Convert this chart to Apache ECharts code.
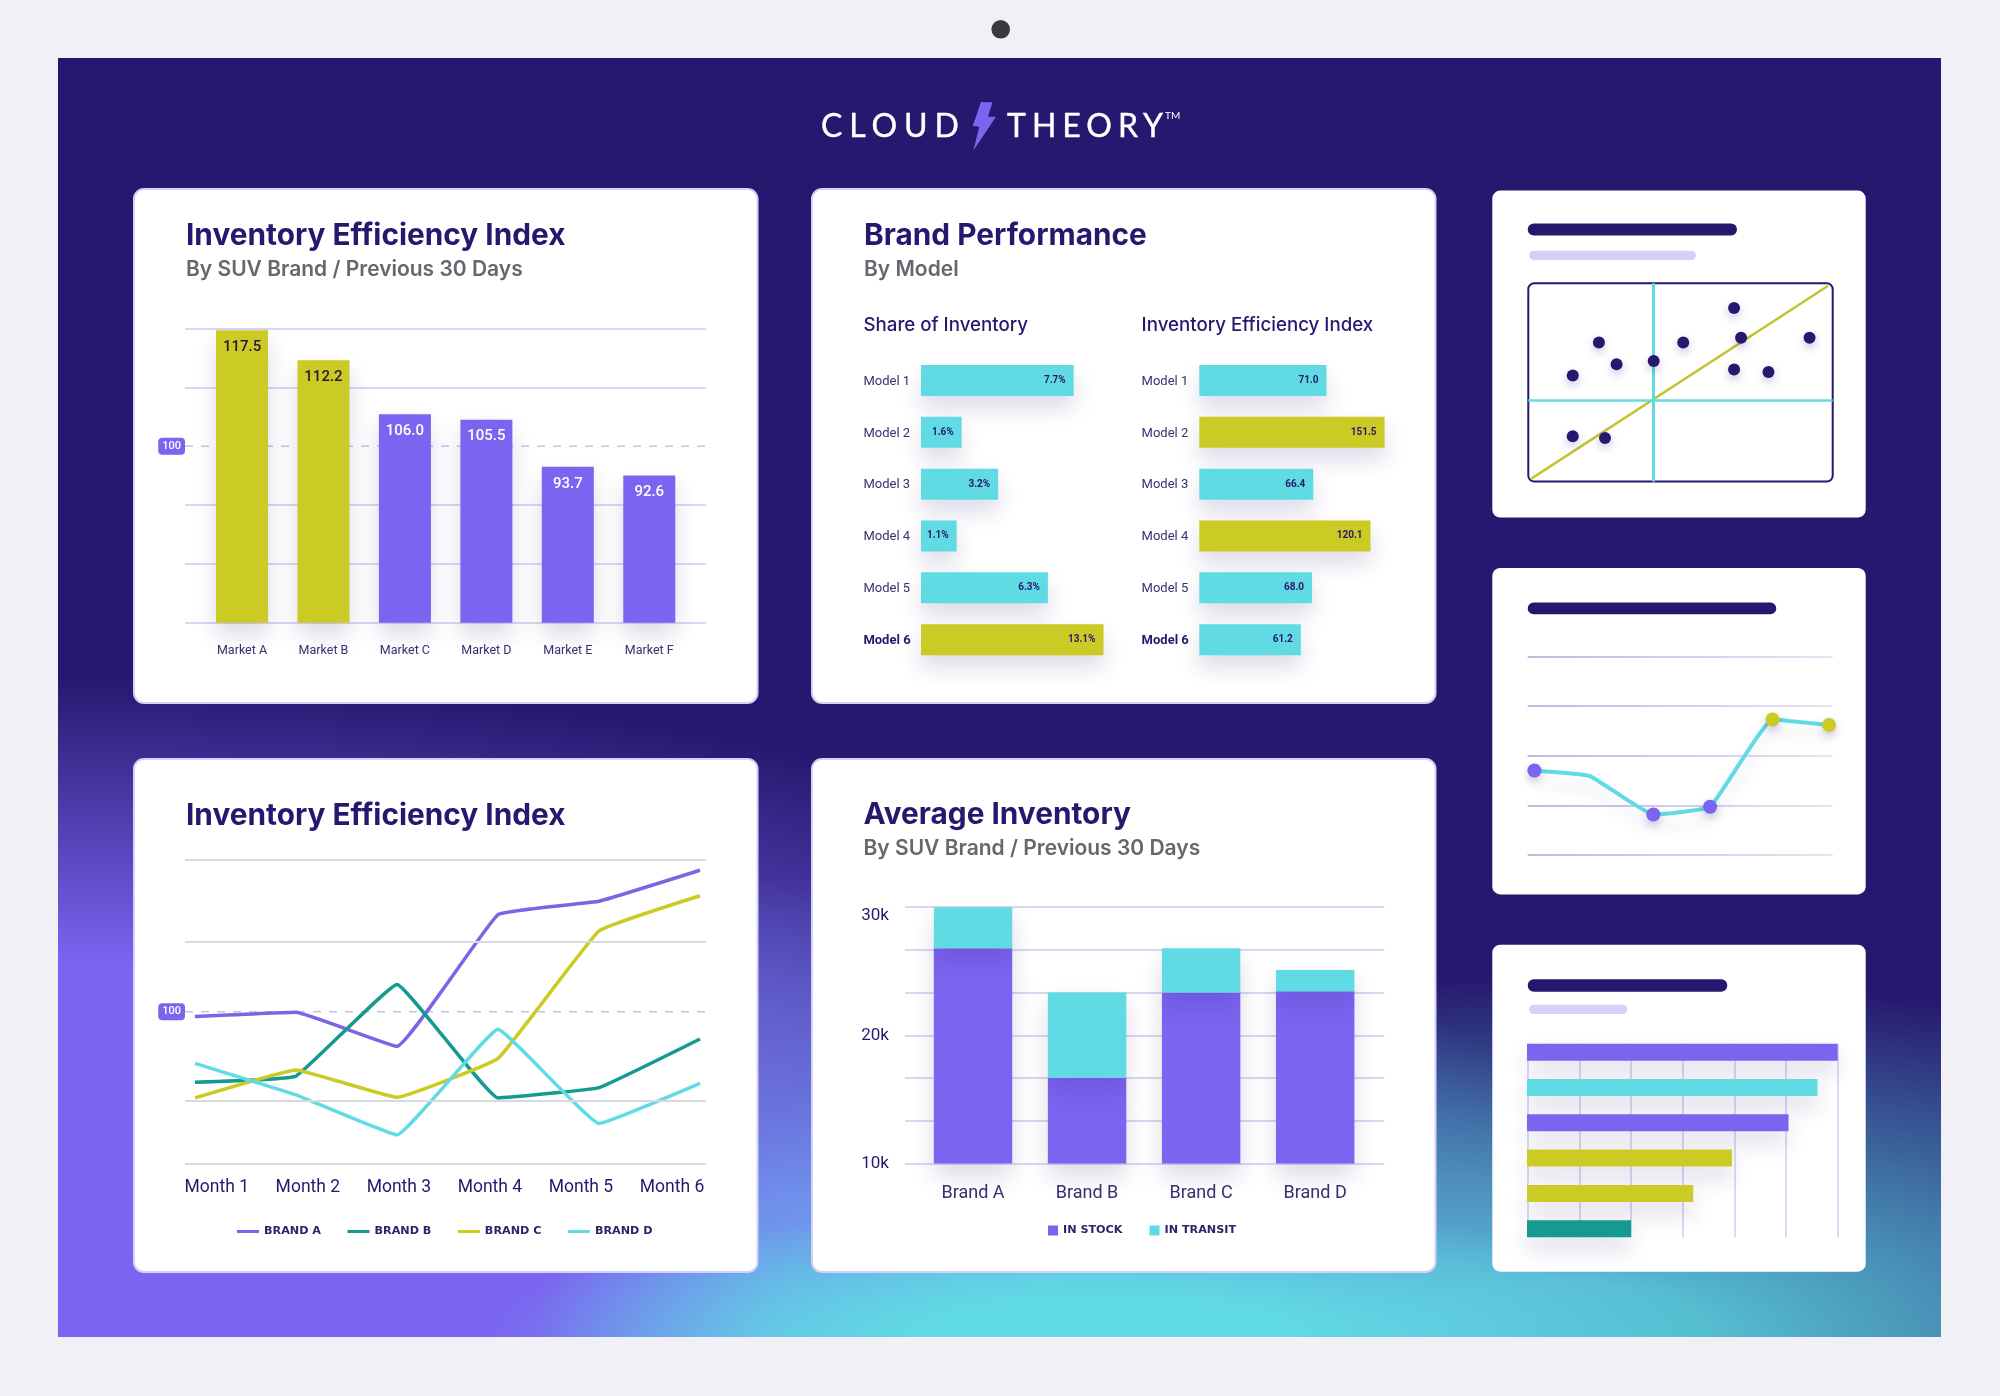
<!DOCTYPE html>
<html>
<head>
<meta charset="utf-8">
<title>Cloud Theory</title>
<script src="https://cdn.jsdelivr.net/npm/echarts@6/dist/echarts.min.js"></script>
<style>
html, body { margin: 0; padding: 0; background: #f0f0f6; }
#page { position: relative; width: 2000px; height: 1396px; overflow: hidden; }
#panel {
    position: absolute; left: 58px; top: 58px; width: 1883px; height: 1279px;
    background:
        radial-gradient(ellipse 620px 135px at 1050px 1279px, #60dae4 0%, #60dae4 30%, rgba(96,218,228,0) 100%),
        radial-gradient(ellipse 720px 420px at 0px 1279px, #7b64f0 0%, #7b64f0 68%, rgba(123,100,240,0) 100%),
        radial-gradient(ellipse 1250px 380px at 0px 1000px, #7b64f0 0%, #7b64f0 25%, rgba(123,100,240,0) 100%),
        radial-gradient(ellipse 900px 460px at 727px 1279px, #68aee8 0%, #68aee8 30%, rgba(104,174,232,0) 100%),
        radial-gradient(ellipse 1050px 360px at 1500px 1279px, #55bcd0 0%, #55bcd0 15%, rgba(85,188,208,0) 100%),
        #26186f;
}
#chart { position: absolute; left: 0; top: 0; width: 2000px; height: 1396px; }
.logo { position: absolute; color: #fff; font-family: Lato, sans-serif; font-size: 32px; line-height: 32px; white-space: nowrap; -webkit-text-stroke: 0.4px #fff; }
</style>
</head>
<body>
<div id="page">
    <div id="panel"></div>
    <div id="chart"></div>
    <div class="logo" style="left:821px;top:109px;letter-spacing:6.9px">CLOUD</div>
    <div class="logo" style="left:1007px;top:109px;letter-spacing:6px">THEORY</div>
    <div class="logo" style="left:1165px;top:110px;font-size:10px;line-height:10px;-webkit-text-stroke:0">TM</div>
</div>
<script>
var purple = '#7b64f0', cyan = '#60dbe4', yellow = '#ccca24', navy = '#26186f', teal = '#159a90';
var gridLilac = '#cfc9f2', gridGrey = '#d8d8e0', greyText = '#66666f', dashLilac = '#c5c0e8';
var fontName = 'Roboto, sans-serif', headFont = 'Inter, sans-serif';

// market bars: heights as they stand on the gridlines, printed labels next to them
var markets = ['Market A', 'Market B', 'Market C', 'Market D', 'Market E', 'Market F'];
var marketHeights = [119.7, 114.6, 105.4, 104.5, 96.5, 95.0];
var marketLabels = ['117.5', '112.2', '106.0', '105.5', '93.7', '92.6'];

var models = ['Model 1', 'Model 2', 'Model 3', 'Model 4', 'Model 5', 'Model 6'];
var shareLengths = [10.96, 2.92, 5.54, 2.56, 9.11, 13.1];
var shareLabels = ['7.7%', '1.6%', '3.2%', '1.1%', '6.3%', '13.1%'];
var effLengths = [104, 151.5, 93.2, 140, 92.2, 83];
var effLabels = ['71.0', '151.5', '66.4', '120.1', '68.0', '61.2'];

var months = ['Month 1', 'Month 2', 'Month 3', 'Month 4', 'Month 5', 'Month 6'];
var brandA = [99.2, 99.9, 94.3, 116, 118.2, 123.3];
var brandB = [88.4, 89.4, 104.5, 85.8, 87.5, 95.5];
var brandC = [85.8, 90.4, 85.9, 92.3, 113.3, 119.1];
var brandD = [91.5, 86.3, 79.7, 97.1, 81.6, 88.2];
var indexGridValues = [75, 85.4, 111.6, 125];

var brands = ['Brand A', 'Brand B', 'Brand C', 'Brand D'];
var inStock = [26800, 16700, 23350, 23450];
var inTransit = [3200, 6650, 3450, 1650];

var scatterX = [14.6, 23.2, 29.0, 41.2, 50.9, 67.6, 69.9, 67.6, 78.9, 92.4, 14.6, 25.2];
var scatterY = [53.5, 70.1, 59.2, 60.8, 70.1, 87.5, 72.6, 56.5, 55.3, 72.6, 22.9, 22.0];
var trendLine = [[1, 1.5], [98.5, 98.8]];

var miniLineX = [2.2, 20.4, 41.2, 59.8, 80.3, 98.8];
var miniLineY = [42.6, 39.8, 20.4, 24.3, 68.3, 65.5];

var miniBars = [6, 5.61, 5.05, 3.96, 3.21, 2.01];

var grids = [], xAxes = [], yAxes = [], series = [], titles = [];

function plot(box, x, y) {
    grids.push({ left: box[0], top: box[1], width: box[2] - box[0], height: box[3] - box[1] });
    x.gridIndex = y.gridIndex = grids.length - 1;
    xAxes.push(x);
    yAxes.push(y);
    return grids.length - 1;
}

function hidden(min, max) {
    return { type: 'value', min: min, max: max, show: false };
}

function text(t, x, baseline, size, color, weight) {
    titles.push({
        text: t, left: x, top: baseline - size * 0.78, padding: 0,
        textStyle: { fontFamily: headFont, fontSize: size, color: color, fontWeight: weight }
    });
}

function shadow(o) {
    o.shadowColor = 'rgba(38,24,111,0.16)';
    o.shadowBlur = 22;
    o.shadowOffsetY = 12;
    return o;
}

var badgeLabel = {
    customValues: [100], margin: 0, color: '#fff', fontFamily: fontName, fontSize: 11, fontWeight: 500,
    backgroundColor: purple, borderRadius: 4, padding: [3, 4, 3, 4]
};

function hBars(box, labelMargin, lengths, labels, max, highlight) {
    var i = plot(box, hidden(0, max), {
        type: 'category', inverse: true, data: models,
        axisLine: { show: false }, axisTick: { show: false },
        axisLabel: {
            align: 'left', margin: labelMargin, color: '#38306f', fontFamily: fontName, fontSize: 13, padding: [2, 0, 0, 0],
            formatter: function (v, n) { return n === 5 ? '{b|' + v + '}' : v; },
            rich: { b: { fontFamily: fontName, fontSize: 13, fontWeight: 700, color: navy } }
        }
    });
    series.push({
        type: 'bar', xAxisIndex: i, yAxisIndex: i, barWidth: 31,
        data: lengths.map(function (v, n) {
            return { value: v, itemStyle: shadow({ color: highlight.indexOf(n) >= 0 ? yellow : cyan }) };
        }),
        label: {
            show: true, position: 'insideRight', distance: 8, color: navy,
            fontFamily: fontName, fontSize: 10, fontWeight: 700,
            formatter: function (p) { return labels[p.dataIndex]; }
        }
    });
}

// Inventory Efficiency Index, bars
text('Inventory Efficiency Index', 186, 244.5, 29.8, navy, 700);
text('By SUV Brand / Previous 30 Days', 186, 275.5, 21, greyText, 600);
var g = plot([185, 328.4, 706, 622.8], hidden(0, 1), {
    type: 'value', min: 70, max: 120, interval: 10,
    axisLine: { show: false }, axisTick: { show: false }, axisLabel: badgeLabel,
    splitLine: { lineStyle: { width: 1.5, color: [gridLilac, gridLilac, gridLilac, 'rgba(0,0,0,0)', gridLilac, gridLilac] } }
});
series.push({
    type: 'line', xAxisIndex: g, yAxisIndex: g, symbol: 'none', z: 1,
    data: [[0, 100], [1, 100]], lineStyle: { width: 1.5, color: dashLilac, type: [8, 8] }
});
g = plot([201.3, 328.4, 690, 622.8], {
    type: 'category', data: markets, axisLine: { show: false }, axisTick: { show: false },
    axisLabel: { margin: 22, color: '#38306f', fontFamily: fontName, fontSize: 12.5 }
}, hidden(70, 120));
series.push({
    type: 'bar', xAxisIndex: g, yAxisIndex: g, barWidth: 52,
    data: marketHeights.map(function (v, n) {
        return {
            value: v,
            itemStyle: shadow({ color: n < 2 ? yellow : purple }),
            label: { color: n < 2 ? '#231a33' : '#fff' }
        };
    }),
    label: {
        show: true, position: 'insideTop', distance: 9.5, fontFamily: fontName, fontSize: 15, fontWeight: 500,
        formatter: function (p) { return marketLabels[p.dataIndex]; }
    }
});

// Brand Performance
text('Brand Performance', 864, 244.5, 29.8, navy, 700);
text('By Model', 864, 275.5, 21, greyText, 600);
text('Share of Inventory', 863.5, 330, 18.7, navy, 500);
text('Inventory Efficiency Index', 1141.6, 330, 18.7, navy, 500);
hBars([921, 354.5, 1103.5, 665.6], 57.6, shareLengths, shareLabels, 13.1, [5]);
hBars([1199.3, 354.5, 1384.6, 665.6], 57.7, effLengths, effLabels, 151.5, [1, 3]);

// Inventory Efficiency Index, lines
text('Inventory Efficiency Index', 186, 824, 29.8, navy, 700);
g = plot([185, 859.9, 706, 1163.5], hidden(0, 1), {
    type: 'value', min: 75, max: 125,
    axisLine: { show: false }, axisTick: { show: false }, axisLabel: badgeLabel, splitLine: { show: false }
});
series.push({
    type: 'line', xAxisIndex: g, yAxisIndex: g, symbol: 'none', z: 1,
    data: [[0, 100], [1, 100]], lineStyle: { width: 1.5, color: dashLilac, type: [8, 8] },
    markLine: {
        silent: true, symbol: 'none', label: { show: false }, animation: false,
        lineStyle: { type: 'solid', width: 2, color: gridGrey },
        data: indexGridValues.map(function (v) { return { yAxis: v }; })
    }
});
g = plot([195, 859.9, 700, 1163.5], { type: 'category', boundaryGap: false, data: months, show: false }, hidden(75, 125));
[['BRAND A', brandA, '#7b64e6'], ['BRAND B', brandB, teal], ['BRAND C', brandC, yellow], ['BRAND D', brandD, cyan]].forEach(function (b) {
    series.push({
        type: 'line', name: b[0], data: b[1], xAxisIndex: g, yAxisIndex: g, symbol: 'none', smooth: 0.08,
        itemStyle: { color: b[2] }, lineStyle: { width: 3.5, color: b[2], join: 'round' }
    });
});
plot([171.3, 859.9, 717.5, 1163.5], {
    type: 'category', data: months, axisLine: { show: false }, axisTick: { show: false },
    axisLabel: { margin: 15, color: navy, fontFamily: fontName, fontSize: 17.5 }
}, hidden(0, 1));

// Average Inventory
text('Average Inventory', 863.5, 823.5, 29.8, navy, 700);
text('By SUV Brand / Previous 30 Days', 863.5, 854.5, 21, greyText, 600);
plot([904.9, 907.2, 1384.2, 1163.5], hidden(0, 1), {
    type: 'value', min: 10000, max: 30000, interval: 10000,
    axisLine: { show: false }, axisTick: { show: false },
    axisLabel: {
        margin: 16, color: navy, fontFamily: fontName, fontSize: 17,
        verticalAlignMaxLabel: 'top',
        formatter: function (v) { return v / 1000 + 'k'; }
    },
    splitLine: { lineStyle: { width: 1.5, color: gridLilac } },
    minorTick: { show: false, splitNumber: 3 },
    minorSplitLine: { show: true, lineStyle: { width: 1.5, color: gridLilac } }
});
g = plot([916, 907.2, 1372.2, 1163.5], {
    type: 'category', data: brands, axisLine: { show: false }, axisTick: { show: false },
    axisLabel: { margin: 21, color: '#38306f', fontFamily: fontName, fontSize: 18 }
}, hidden(10000, 30000));
series.push({
    type: 'bar', name: 'IN STOCK', stack: 'inv', xAxisIndex: g, yAxisIndex: g, barWidth: 78.4,
    data: inStock, itemStyle: shadow({ color: purple })
});
series.push({
    type: 'bar', name: 'IN TRANSIT', stack: 'inv', xAxisIndex: g, yAxisIndex: g, barWidth: 78.4,
    data: inTransit, itemStyle: shadow({ color: cyan })
});

// scatter card
g = plot([1528.3, 283.3, 1832.7, 481.6], hidden(0, 100), hidden(0, 100));
series.push({
    type: 'scatter', xAxisIndex: g, yAxisIndex: g, symbolSize: 12, z: 5,
    data: scatterX.map(function (x, n) { return [x, scatterY[n]]; }),
    itemStyle: { color: navy, opacity: 1, shadowColor: 'rgba(38,24,111,0.25)', shadowBlur: 8, shadowOffsetY: 4 },
    markLine: {
        silent: true, symbol: 'none', label: { show: false }, animation: false,
        data: [
            { xAxis: 41.1, lineStyle: { type: 'solid', color: cyan, width: 3 } },
            { yAxis: 41, lineStyle: { type: 'solid', color: cyan, width: 2.5 } }
        ]
    }
});
series.push({
    type: 'line', xAxisIndex: g, yAxisIndex: g, symbol: 'none', z: 4,
    data: trendLine, lineStyle: { width: 2.5, color: '#c3c42e' }
});

// small line card
g = plot([1527.7, 656.6, 1832.7, 855], hidden(0, 100), {
    type: 'value', min: 0, max: 100, interval: 25,
    axisLine: { show: false }, axisTick: { show: false }, axisLabel: { show: false },
    splitLine: {
        lineStyle: {
            width: 1.5,
            color: {
                type: 'linear', x: 1527.7, y: 0, x2: 1832.7, y2: 0, global: true,
                colorStops: [{ offset: 0, color: '#a9a3d8' }, { offset: 1, color: '#dcdaf0' }]
            }
        }
    }
});
series.push({
    type: 'line', xAxisIndex: g, yAxisIndex: g, smooth: 0.1, showAllSymbol: true,
    lineStyle: { width: 4, color: cyan, shadowColor: 'rgba(38,24,111,0.12)', shadowBlur: 16, shadowOffsetY: 12 },
    data: miniLineX.map(function (x, n) {
        return {
            value: [x, miniLineY[n]],
            symbol: n === 1 ? 'none' : 'circle',
            symbolSize: 14,
            itemStyle: { color: n > 3 ? yellow : purple, shadowColor: 'rgba(38,24,111,0.25)', shadowBlur: 8, shadowOffsetY: 4 }
        };
    })
});

// small bar card
plot([1527.7, 1043.7, 1837.7, 1237.3], {
    type: 'value', min: 0, max: 6, interval: 1,
    axisLine: { show: false }, axisTick: { show: false }, axisLabel: { show: false },
    splitLine: { lineStyle: { width: 1.5, color: '#d3cdee' } }
}, hidden(0, 1));
g = plot([1527, 1034.5, 1837.7, 1246.4], hidden(0, 6), {
    type: 'category', inverse: true, data: miniBars.map(function (v, n) { return n; }), show: false
});
series.push({
    type: 'bar', xAxisIndex: g, yAxisIndex: g, barWidth: 17,
    data: miniBars.map(function (v, n) {
        return { value: v, itemStyle: shadow({ color: [purple, cyan, purple, yellow, yellow, teal][n] }) };
    })
});

function card(l, t, r, b, border) {
    return {
        type: 'rect', z: -5, shape: { x: l, y: t, width: r - l, height: b - t, r: border ? 10 : 8 },
        style: { fill: '#fff', stroke: border ? '#d6d1f6' : null, lineWidth: border ? 2 : 0 }
    };
}
function pill(l, t, r, b, color) {
    return { type: 'rect', z: -4, shape: { x: l, y: t, width: r - l, height: b - t, r: (b - t) / 2 }, style: { fill: color } };
}

var graphics = [
    { type: 'circle', shape: { cx: 1000.7, cy: 29.3, r: 9.3 }, style: { fill: '#3a3a3e' } },
    {
        type: 'polygon', shape: { points: [[981, 102], [992.5, 102.3], [988, 116.7], [996, 116.7], [973.3, 150.7], [979.3, 126.7], [972.7, 126]] },
        style: { fill: purple }
    },
    card(134, 189, 757.5, 703, true),
    card(812, 189, 1435.5, 703, true),
    card(134, 759, 757.5, 1272, true),
    card(812, 759, 1435.5, 1272, true),
    card(1492.3, 190.6, 1865.7, 517.5),
    card(1492.3, 568, 1865.7, 894.4),
    card(1492.3, 944.7, 1865.7, 1271.7),
    pill(1527.7, 223.6, 1737, 235.6, navy),
    pill(1529, 250.7, 1696, 259.9, '#d6d0f8'),
    pill(1527.7, 602.4, 1776.3, 614.3, navy),
    pill(1527.7, 979.3, 1727.3, 991.7, navy),
    pill(1529, 1004.7, 1627.3, 1014, '#d6d0f8'),
    {
        type: 'rect', z: 1, shape: { x: 1528.3, y: 283.3, width: 304.4, height: 198.3, r: 6 },
        style: { fill: null, stroke: navy, lineWidth: 2 }
    }
];

var legendText = { fontFamily: 'DejaVu Sans', fontSize: 11.2, fontWeight: 700, color: '#2c2468' };

var option = {
    animation: false,
    backgroundColor: 'transparent',
    title: titles,
    grid: grids,
    xAxis: xAxes,
    yAxis: yAxes,
    series: series,
    graphic: graphics,
    legend: [
        {
            data: ['BRAND A', 'BRAND B', 'BRAND C', 'BRAND D'], left: 237, top: 1226, padding: 0, icon: 'rect',
            itemWidth: 22, itemHeight: 3, itemGap: 26.5, textStyle: legendText
        },
        {
            data: ['IN STOCK', 'IN TRANSIT'], left: 1048, top: 1225, padding: 0, icon: 'rect',
            itemWidth: 10, itemHeight: 10, itemGap: 27, textStyle: legendText
        }
    ]
};

var myChart = echarts.init(document.getElementById('chart'));
myChart.setOption(option);
</script>
</body>
</html>
